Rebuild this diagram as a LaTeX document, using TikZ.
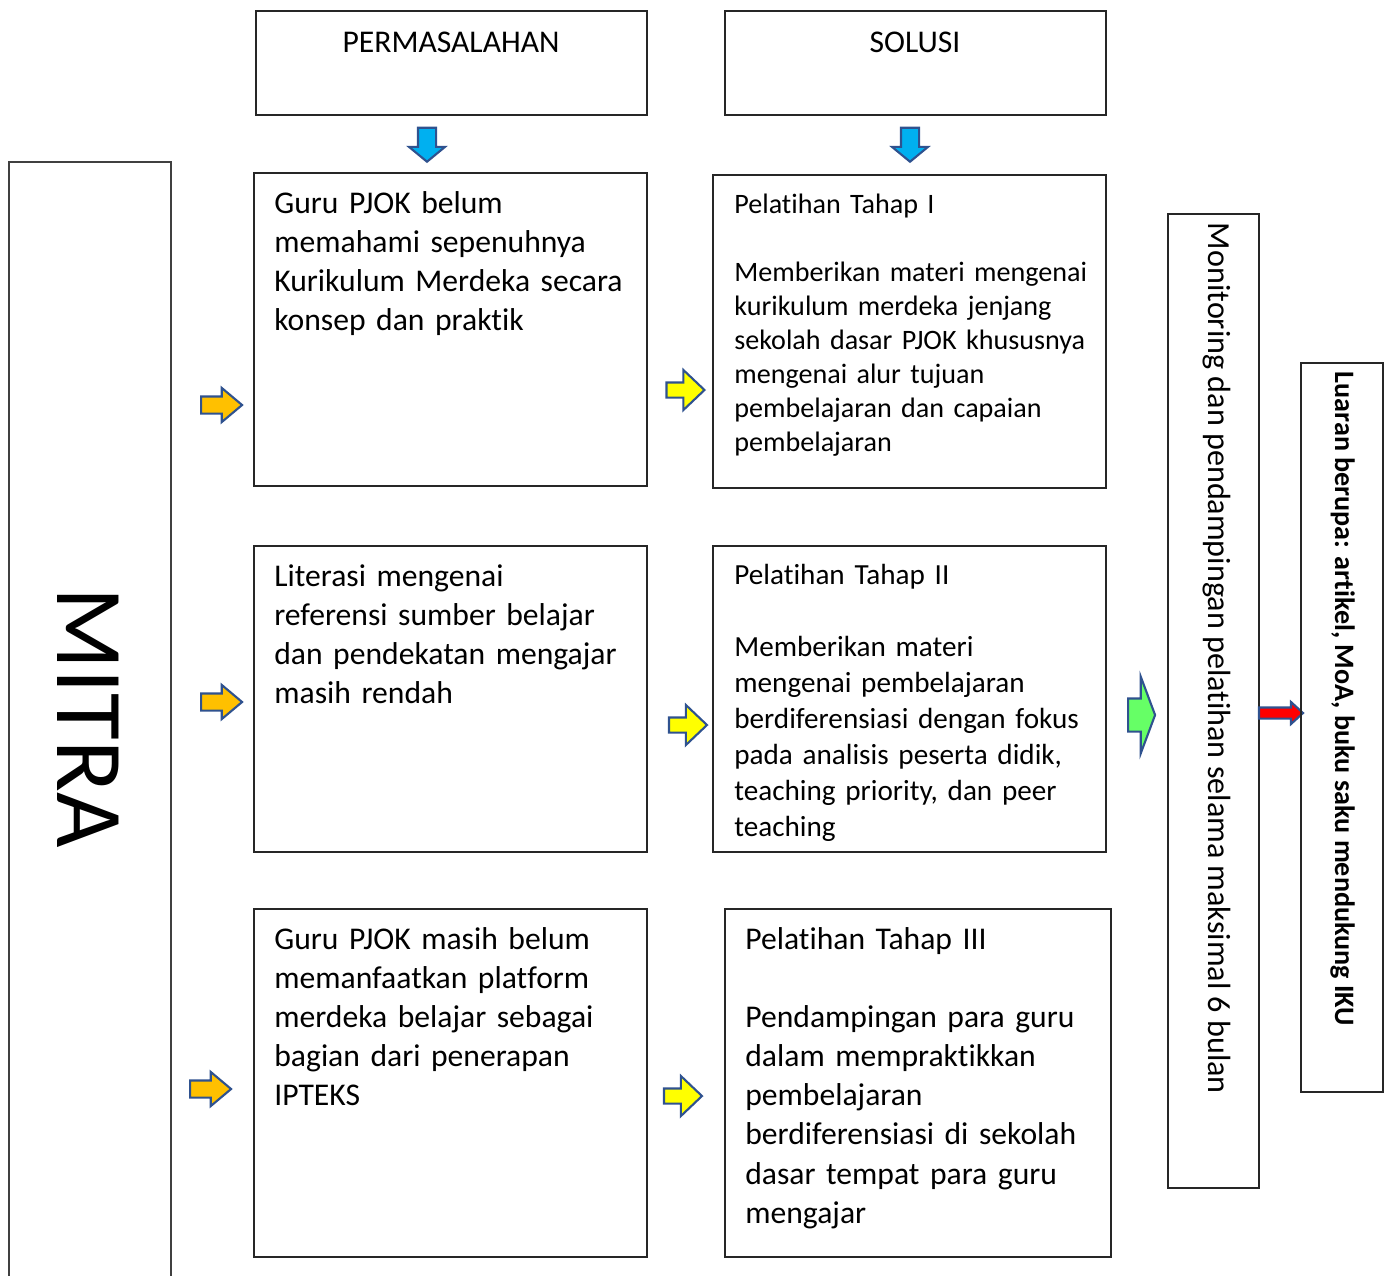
\documentclass[tikz,border=0pt]{standalone}
\usepackage{fontspec}
\setmainfont{Carlito}[Ligatures=NoCommon]
\usetikzlibrary{shapes.arrows,fit}

\definecolor{tepipanah}{HTML}{2F528F}
\definecolor{oranye}{HTML}{FFC000}
\definecolor{kuning}{HTML}{FFFF00}
\definecolor{hijau}{HTML}{66FF66}
\definecolor{biru}{HTML}{00B0F0}
\definecolor{merah}{HTML}{FF0000}
\definecolor{garis}{HTML}{262626}

\tikzset{
  kotak/.style={draw=garis, line width=0.8pt, inner sep=0pt},
  isi/.style={anchor=base west, inner sep=0pt, text width=8cm, align=left},
  panah/.style={single arrow, draw=tepipanah, line width=1.2pt, inner xsep=0pt},
  panahbiru/.style={panah, fill=biru, inner sep=0.16cm, minimum height=0.68cm, minimum width=0.68cm,
    single arrow head extend=0.18cm, single arrow tip angle=101, shape border rotate=270},
  panahoranye/.style={panah, fill=oranye, inner ysep=0.15cm, minimum height=0.82cm, minimum width=0.64cm,
    single arrow head extend=0.17cm, single arrow tip angle=80},
  panahkuning/.style={panah, fill=kuning, inner ysep=0.13cm, minimum height=0.76cm, minimum width=0.76cm,
    single arrow head extend=0.25cm, single arrow tip angle=87},
  panahhijau/.style={panah, fill=hijau, inner ysep=0.31cm, minimum height=0.54cm, minimum width=1.5cm,
    single arrow head extend=0.44cm, single arrow tip angle=139},
  panahmerah/.style={panah, fill=merah, inner ysep=0.09cm, minimum height=0.88cm, minimum width=0.4cm,
    single arrow head extend=0.11cm, single arrow tip angle=85},
  besar/.style={font=\fontsize{18pt}{22.3pt}\selectfont},
}

\begin{document}
\begin{tikzpicture}[x=0.02cm, y=-0.02cm]
    \useasboundingbox (0,0) rectangle (1389,1275);

    % --- Kepala kolom ---
    \node[kotak, fit={(256,11) (647,115)}] (masalah) {};
    \node[besar, anchor=base, inner sep=0pt] (judulmasalah) at (451,52) {PERMASALAHAN};
    \node[kotak, fit={(725,11) (1106,115)}] (solusi) {};
    \node[besar, anchor=base, inner sep=0pt] (judulsolusi) at (915,52) {SOLUSI};

    \node[panahbiru] (bm) at (427,141) {};
    \node[panahbiru] (bs) at (910,141) {};

    % --- Mitra ---
    \node[kotak, draw=black!75, line width=1.1pt, fit={(9,162) (171,1295)}] (mitra) {};
    \node[rotate=-90, inner sep=0pt, font=\fontsize{54.5pt}{60pt}\selectfont] (teksmitra) at (88,718) {MITRA};

    % --- Permasalahan ---
    \node[kotak, fit={(254,173) (647,486)}] (p1) {};
    \node[isi, besar] (tp1) at (274,213) {Guru PJOK belum\\ memahami sepenuhnya\\ Kurikulum Merdeka secara\\ konsep dan praktik};
    \node[kotak, fit={(254,546) (647,852)}] (p2) {};
    \node[isi, besar] (tp2) at (274,586) {Literasi mengenai\\ referensi sumber belajar\\ dan pendekatan mengajar\\ masih rendah};
    \node[kotak, fit={(254,909) (647,1257)}] (p3) {};
    \node[isi, besar] (tp3) at (274,949) {Guru PJOK masih belum\\ memanfaatkan platform\\ merdeka belajar sebagai\\ bagian dari penerapan\\ IPTEKS};

    \node[panahoranye] (po1) at (216.5,405) {};
    \node[panahoranye] (po2) at (216.5,702) {};
    \node[panahoranye] (po3) at (205.5,1089) {};

    % --- Solusi ---
    \node[kotak, fit={(713,175) (1106,488)}] (s1) {};
    \node[isi, font=\fontsize{16pt}{19.4pt}\selectfont] (ts1) at (734,213) {Pelatihan Tahap I\\[19.4pt] Memberikan materi mengenai\\ kurikulum merdeka jenjang\\ sekolah dasar PJOK khususnya\\ mengenai alur tujuan\\ pembelajaran dan capaian\\ pembelajaran};
    \node[kotak, fit={(713,546) (1106,852)}] (s2) {};
    \node[isi, font=\fontsize{16.6pt}{20.5pt}\selectfont] (ts2) at (734,584) {Pelatihan Tahap II\\[20.5pt] Memberikan materi\\ mengenai pembelajaran\\ berdiferensiasi dengan fokus\\ pada analisis peserta didik,\\ teaching priority, dan peer\\ teaching};
    \node[kotak, fit={(725,909) (1111,1257)}] (s3) {};
    \node[isi, besar] (ts3) at (745,949) {Pelatihan Tahap III\\[22.3pt] Pendampingan para guru\\ dalam mempraktikkan\\ pembelajaran\\ berdiferensiasi di sekolah\\ dasar tempat para guru\\ mengajar};

    \node[panahkuning] (pk1) at (681.5,390) {};
    \node[panahkuning] (pk2) at (684,725) {};
    \node[panahkuning] (pk3) at (679,1096) {};

    % --- Monitoring dan luaran ---
    \node[panahhijau] (ph) at (1138.5,715) {};
    \node[kotak, fit={(1168,214) (1259,1188)}] (monitor) {};
    \node[rotate=-90, anchor=base, inner sep=0pt, font=\fontsize{18.3pt}{22pt}\selectfont] (teksmonitor) at (1208,658.5) {Monitoring dan pendampingan pelatihan selama maksimal 6 bulan};

    \node[panahmerah] (pm) at (1278,713) {};
    \node[kotak, fit={(1301,363) (1383,1092)}] (luaran) {};
    \node[rotate=-90, anchor=base, inner sep=0pt, font=\fontsize{16pt}{20pt}\selectfont\bfseries] (teksluaran) at (1335,699) {Luaran berupa: artikel, MoA, buku saku mendukung IKU};
\end{tikzpicture}
\end{document}
